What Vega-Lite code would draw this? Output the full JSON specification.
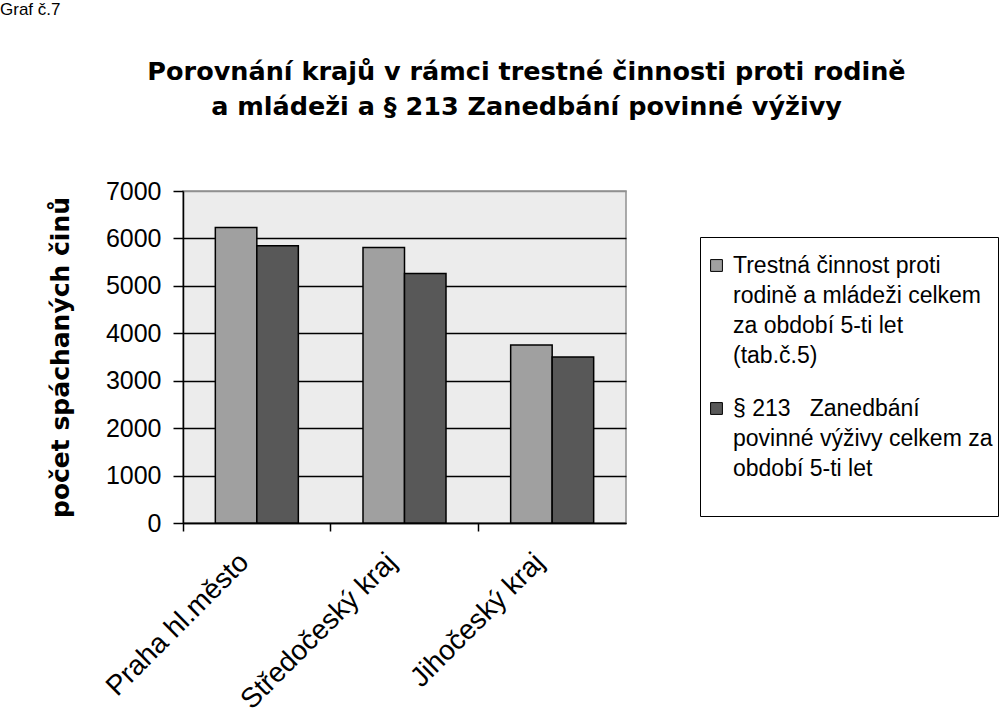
{
  "$schema": "https://vega.github.io/schema/vega-lite/v6.json",
  "background": "white",
  "padding": {"left": 0, "top": 0, "right": 0, "bottom": 0},
  "title": {"text": "Graf č.7", "anchor": "start", "frame": "group", "fontSize": 17, "font": "Liberation Sans", "fontWeight": "normal", "color": "black", "offset": 31, "dx": -183, "dy": -9},
  "vconcat": [
    {
      "width": 443,
      "height": 332,
      "title": {"text": ["Porovnání krajů v rámci trestné činnosti proti rodině", "a mládeži a § 213 Zanedbání povinné výživy"], "font": "DejaVu Sans", "fontWeight": "bold", "fontSize": 25.5, "lineHeight": 35, "anchor": "middle", "frame": "group", "dx": 122, "offset": 59, "color": "black"},
      "data": {"values": [
        {"kraj": "Praha hl.město", "ukazatel": "Trestná činnost proti rodině a mládeži celkem za období 5-ti let (tab.č.5)", "pocet": 6230},
        {"kraj": "Praha hl.město", "ukazatel": "§ 213 Zanedbání povinné výživy celkem za období 5-ti let", "pocet": 5845},
        {"kraj": "Středočeský kraj", "ukazatel": "Trestná činnost proti rodině a mládeži celkem za období 5-ti let (tab.č.5)", "pocet": 5810},
        {"kraj": "Středočeský kraj", "ukazatel": "§ 213 Zanedbání povinné výživy celkem za období 5-ti let", "pocet": 5260},
        {"kraj": "Jihočeský kraj", "ukazatel": "Trestná činnost proti rodině a mládeži celkem za období 5-ti let (tab.č.5)", "pocet": 3755},
        {"kraj": "Jihočeský kraj", "ukazatel": "§ 213 Zanedbání povinné výživy celkem za období 5-ti let", "pocet": 3500}
      ]},
      "mark": {"type": "bar", "stroke": "black", "strokeWidth": 1.5},
      "encoding": {
        "x": {
          "field": "kraj", "type": "nominal",
          "sort": ["Praha hl.město", "Středočeský kraj", "Jihočeský kraj"],
          "scale": {"paddingInner": 0, "paddingOuter": 0},
          "axis": {"title": null, "labelAngle": -45, "labelFontSize": 28, "labelFont": "Liberation Sans", "labelColor": "black", "labelLimit": 400, "bandPosition": 0, "labelOffset": -22, "tickSize": 8, "tickColor": "black", "tickWidth": 1.5, "labelPadding": 17, "domainColor": "black", "domainWidth": 1.5, "grid": false}
        },
        "xOffset": {
          "field": "ukazatel", "type": "nominal",
          "scale": {"domain": ["Trestná činnost proti rodině a mládeži celkem za období 5-ti let (tab.č.5)", "§ 213 Zanedbání povinné výživy celkem za období 5-ti let"], "paddingInner": 0, "paddingOuter": 0.779}
        },
        "y": {
          "field": "pocet", "type": "quantitative",
          "scale": {"domain": [0, 7000], "nice": false},
          "axis": {"title": "počet spáchaných činů", "titleFont": "DejaVu Sans", "titleFontWeight": "bold", "titleFontSize": 25, "titleColor": "black", "titlePadding": 32, "labelFontSize": 25, "labelFont": "Liberation Sans", "labelColor": "black", "labelPadding": 12, "format": "d", "tickSize": 10, "tickColor": "black", "tickWidth": 1.5, "domainColor": "black", "domainWidth": 1.5, "values": [0, 1000, 2000, 3000, 4000, 5000, 6000, 7000], "grid": true, "gridColor": {"condition": {"test": "datum.value == 7000", "value": "#909090"}, "value": "black"}, "gridWidth": 1.5}
        },
        "color": {
          "field": "ukazatel", "type": "nominal",
          "scale": {"domain": ["Trestná činnost proti rodině a mládeži celkem za období 5-ti let (tab.č.5)", "§ 213 Zanedbání povinné výživy celkem za období 5-ti let"], "range": ["#a0a0a0", "#585858"]},
          "legend": {
            "orient": "none", "legendX": 517, "legendY": 46, "title": "\u00a0", "titleFontSize": 4, "titlePadding": 8,
            "strokeColor": "black", "fillColor": "white", "padding": 5,
            "labelFontSize": 23, "labelFont": "Liberation Sans", "labelColor": "black", "labelLimit": 600,
            "symbolType": "square", "symbolSize": 140, "symbolStrokeColor": "black", "symbolStrokeWidth": 1,
            "rowPadding": 29, "labelOffset": 5,
            "labelExpr": "datum.label == 'Trestná činnost proti rodině a mládeži celkem za období 5-ti let (tab.č.5)' ? ['Trestná činnost proti', 'rodině a mládeži celkem', 'za období 5-ti let', '(tab.č.5)'] : ['§ 213\u00a0\u00a0\u00a0Zanedbání', 'povinné výživy celkem za', 'období 5-ti let', '\u00a0']"
          }
        }
      }
    }
  ],
  "config": {
    "view": {"fill": "#ececec", "stroke": "#909090", "strokeWidth": 1.5},
    "style": {"guide-label": {"lineHeight": 30}}
  }
}
